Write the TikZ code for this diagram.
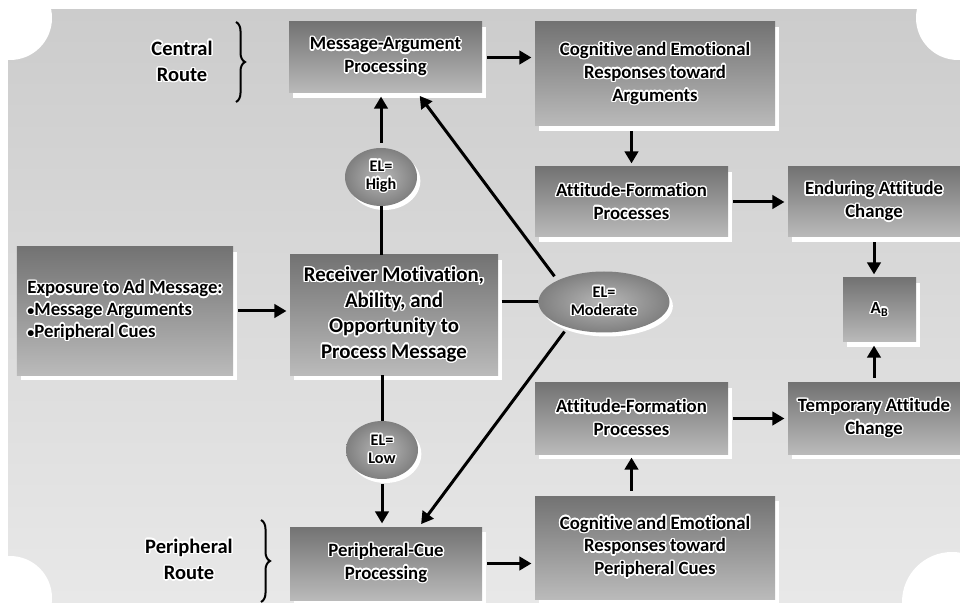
\documentclass[tikz,border=0pt]{standalone}
\usepackage{fontspec}
\setmainfont{Carlito}[Ligatures={NoCommon}]
\usepackage{contour}
\contourlength{1.2pt}
\usetikzlibrary{shapes.geometric,arrows.meta,shadows,decorations.pathreplacing}
\definecolor{bgtop}{gray}{0.80}
\definecolor{bgbot}{gray}{0.91}
\definecolor{boxtop}{gray}{0.45}
\definecolor{boxbot}{gray}{0.73}
\definecolor{elin}{gray}{0.72}
\definecolor{elout}{gray}{0.50}
\newcommand{\gl}[1]{\contour{white}{#1}}
\newcommand{\dotmark}{{\fontsize{12}{12}\selectfont•}}

\begin{document}
\begin{tikzpicture}[x=0.3mm,y=-0.3mm,
  stage/.style={rectangle,top color=boxtop,bottom color=boxbot,inner sep=2pt,
    drop shadow={fill=white,opacity=1,shadow xshift=1.2mm,shadow yshift=-1.6mm},
    align=center,font=\fontsize{16}{19.4}\selectfont\bfseries},
  level/.style={ellipse,inner color=elin,outer color=elout,inner sep=0pt,
    drop shadow={fill=white,opacity=1,shadow xshift=1mm,shadow yshift=-1.2mm},
    align=center,font=\fontsize{13.8}{15.5}\selectfont\bfseries},
  flow/.style={line width=0.9mm,-{Triangle[length=3.6mm,width=4mm]},shorten >=1mm,shorten <=1.5mm},
  link/.style={line width=0.9mm},
  route/.style={align=center,font=\fontsize{17.5}{22.5}\selectfont\bfseries},
  bracket/.style={decorate,decoration={brace,amplitude=2.7mm},line width=0.6mm}]

\useasboundingbox (0,0) rectangle (960,605);
\fill[white] (0,0) rectangle (960,605);
\fill[top color=bgtop,bottom color=bgbot] (8,10) rectangle (960,602);
\fill[white] (10,18) circle (12.6mm);
\fill[white] (958,18) circle (12.6mm);
\fill[white] (10,598) circle (12.6mm);
\fill[white] (952,602) circle (15mm);

\node[stage,minimum width=57.9mm,minimum height=21.3mm] (MA) at (385.5,57.5) {\gl{Message-Argument}\\\gl{Processing}};
\node[stage,minimum width=72mm,minimum height=31.2mm] (CA) at (655,74) {\gl{Cognitive and Emotional}\\\gl{Responses toward}\\\gl{Arguments}};
\node[stage,minimum width=57.9mm,minimum height=21mm] (FA) at (631.5,202) {\gl{Attitude-Formation}\\\gl{Processes}};
\node[stage,minimum width=51.6mm,minimum height=21mm] (EA) at (874,202) {\gl{Enduring Attitude}\\\gl{Change}};
\node[stage,minimum width=21.9mm,minimum height=19.2mm,font=\fontsize{14.5}{17}\selectfont\bfseries] (AB) at (879.5,310) {\gl{A\textsubscript{B}}};
\node[stage,minimum width=51.6mm,minimum height=21.3mm] (TA) at (874,418.5) {\gl{Temporary Attitude}\\\gl{Change}};
\node[stage,minimum width=57.9mm,minimum height=21.3mm] (FP) at (631.5,418.5) {\gl{Attitude-Formation}\\\gl{Processes}};
\node[stage,minimum width=72mm,minimum height=30.9mm] (CP) at (655,547.5) {\gl{Cognitive and Emotional}\\\gl{Responses toward}\\\gl{Peripheral Cues}};
\node[stage,minimum width=57.6mm,minimum height=21.9mm] (PC) at (386,563.5) {\gl{Peripheral-Cue}\\\gl{Processing}};
\node[stage,align=left,minimum width=64.8mm,minimum height=38.4mm,font=\fontsize{16}{18.5}\selectfont\bfseries] (EX) at (125,311) {\gl{Exposure to Ad Message:}\\\gl{\dotmark Message Arguments}\\\gl{\dotmark Peripheral Cues}};
\node[stage,minimum width=62.4mm,minimum height=36mm,font=\fontsize{17.8}{21.8}\selectfont\bfseries] (RM) at (394,315) {\gl{Receiver Motivation,}\\\gl{Ability, and}\\\gl{Opportunity to}\\\gl{Process Message}};

\node[level,minimum width=21.6mm,minimum height=17.4mm] (hi) at (381,177) {\gl{EL=}\\\gl{High}};
\node[level,minimum width=21.6mm,minimum height=17.4mm] (lo) at (382,450) {\gl{EL=}\\\gl{Low}};
\node[level,minimum width=39.3mm,minimum height=18.3mm] (mod) at (604,302) {\gl{EL=}\\\gl{Moderate}};

\node[route] (cr) at (182,62) {\gl{Central}\\\gl{Route}};
\node[route] (pr) at (189,560) {\gl{Peripheral}\\\gl{Route}};
\coordinate (cb1) at (236,22);
\coordinate (cb2) at (236,102);
\coordinate (pb1) at (261,520);
\coordinate (pb2) at (261,602);
\draw[bracket] (cb1) -- (cb2);
\draw[bracket] (pb1) -- (pb2);

\draw[flow] (MA.east) -- (MA.east -| CA.west);
\draw[flow] (CA.south -| FA) -- (FA.north);
\draw[flow] (FA) -- (EA);
\draw[flow] (EA.south) -- (EA.south |- AB.north);
\draw[flow] (TA.north) -- (TA.north |- AB.south);
\draw[flow] (FP) -- (TA);
\draw[flow] (CP.north -| FP) -- (FP.south);
\draw[flow] (PC.east) -- (PC.east -| CP.west);
\draw[flow] (EX.east) -- (EX.east -| RM.west);
\draw[link] (RM.north -| hi) -- (hi.south);
\draw[flow] (hi.north) -- (hi.north |- MA.south);
\draw[link] (RM.south -| lo) -- (lo.north);
\draw[flow] (lo.south) -- (lo.south |- PC.north);
\draw[link,shorten <=1mm] (RM.east |- mod) -- (mod.west);
\draw[flow] (mod.155) -- (MA.-48);
\draw[flow] (mod.215) -- (PC.48);
\end{tikzpicture}
\end{document}
